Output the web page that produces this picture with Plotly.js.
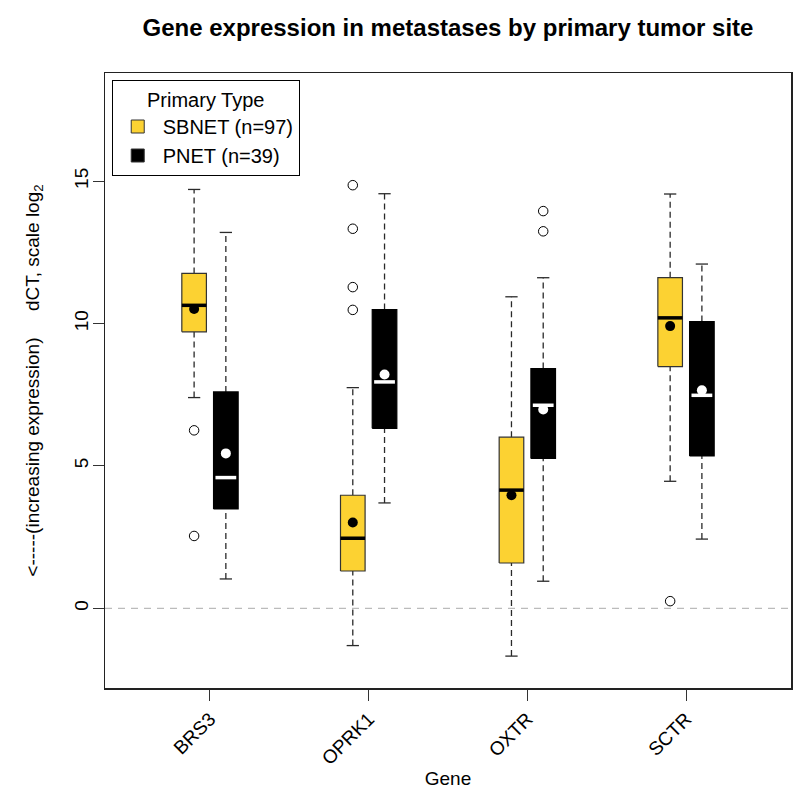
<!DOCTYPE html>
<html>
<head>
<meta charset="utf-8">
<script src="https://cdn.plot.ly/plotly-3.0.1.min.js"></script>
<style>
  html, body { margin: 0; padding: 0; background: #fff; }
  #plot { width: 800px; height: 795px; }
</style>
</head>
<body>
<div id="plot"></div>
<script>
// genes on the x axis
let genes = ['BRS3', 'OPRK1', 'OXTR', 'SCTR'];

// SBNET (n=97) box stats
let sbnetLow = [7.40, -1.31, -1.68, 4.46];
let sbnetQ1 = [9.71, 1.31, 1.59, 8.49];
let sbnetMedian = [10.64, 2.46, 4.15, 10.20];
let sbnetQ3 = [11.76, 3.97, 6.01, 11.61];
let sbnetHigh = [14.71, 7.75, 10.94, 14.55];
let sbnetMean = [10.51, 3.01, 3.97, 9.91];
let sbnetOutliers = [[6.25, 2.54], [14.86, 13.33, 11.28, 10.48], [], [0.25]];

// PNET (n=39) box stats
let pnetLow = [1.03, 3.70, 0.95, 2.43];
let pnetQ1 = [3.49, 6.32, 5.26, 5.35];
let pnetMedian = [4.59, 7.95, 7.13, 7.48];
let pnetQ3 = [7.60, 10.49, 8.42, 10.07];
let pnetHigh = [13.20, 14.56, 11.61, 12.09];
let pnetMean = [5.44, 8.21, 6.98, 7.66];
let pnetOutliers = [[], [], [13.95, 13.24], []];

let font = 'Arial, "Liberation Sans", Helvetica, sans-serif';
let yellow = '#FCD232';
let boxW = 0.155;   // box width in x units
let offset = 0.1;   // distance of each group from the gene tick

let groups = [
  {name: 'SBNET (n=97)', dx: -offset, fill: yellow, edge: '#333', mid: '#000', inset: 0,
   low: sbnetLow, q1: sbnetQ1, med: sbnetMedian, q3: sbnetQ3, high: sbnetHigh, mean: sbnetMean, out: sbnetOutliers},
  {name: 'PNET (n=39)', dx: offset, fill: '#000', edge: '#000', mid: '#fff', inset: 0.012,
   low: pnetLow, q1: pnetQ1, med: pnetMedian, q3: pnetQ3, high: pnetHigh, mean: pnetMean, out: pnetOutliers}
];

let data = [];

groups.forEach(function (g) {
  // dashed whiskers and caps
  let wx = [], wy = [], cx = [], cy = [];
  genes.forEach(function (gene, i) {
    let p = i + 1 + g.dx;
    wx.push(p, p, null, p, p, null);
    wy.push(g.low[i], g.q1[i], null, g.q3[i], g.high[i], null);
    cx.push(p - boxW / 4, p + boxW / 4, null, p - boxW / 4, p + boxW / 4, null);
    cy.push(g.low[i], g.low[i], null, g.high[i], g.high[i], null);
  });
  data.push({x: wx, y: wy, mode: 'lines', showlegend: false, hoverinfo: 'skip',
             line: {color: '#2a2a2a', width: 1.3, dash: '6px,4px'}});
  data.push({x: cx, y: cy, mode: 'lines', showlegend: false, hoverinfo: 'skip',
             line: {color: '#2a2a2a', width: 1.3}});

  // boxes
  genes.forEach(function (gene, i) {
    let p = i + 1 + g.dx;
    data.push({
      x: [p - boxW / 2, p + boxW / 2, p + boxW / 2, p - boxW / 2, p - boxW / 2],
      y: [g.q1[i], g.q1[i], g.q3[i], g.q3[i], g.q1[i]],
      mode: 'lines', fill: 'toself', fillcolor: g.fill,
      line: {color: g.edge, width: 1.2}, showlegend: false, hoverinfo: 'skip'
    });
  });

  // medians
  let mx = [], my = [];
  genes.forEach(function (gene, i) {
    let p = i + 1 + g.dx;
    mx.push(p - boxW / 2 + g.inset, p + boxW / 2 - g.inset, null);
    my.push(g.med[i], g.med[i], null);
  });
  data.push({x: mx, y: my, mode: 'lines', showlegend: false, hoverinfo: 'skip',
             line: {color: g.mid, width: 3.5}});

  // means
  data.push({x: genes.map(function (gn, i) { return i + 1 + g.dx; }), y: g.mean,
             mode: 'markers', showlegend: false, hoverinfo: 'skip',
             marker: {color: g.mid, size: 10, line: {width: 0}}});

  // outliers
  let ox = [], oy = [];
  g.out.forEach(function (vals, i) {
    vals.forEach(function (v) { ox.push(i + 1 + g.dx); oy.push(v); });
  });
  data.push({x: ox, y: oy, mode: 'markers', showlegend: false, hoverinfo: 'skip',
             marker: {symbol: 'circle-open', color: '#000', size: 9.5, line: {width: 1}}});

  // legend entry
  data.push({x: [1], y: [-100], mode: 'markers', name: g.name, showlegend: true,
             marker: {symbol: 'square', size: 13, color: g.fill, line: {color: '#333', width: 1}}});
});

let layout = {
  width: 800,
  height: 795,
  paper_bgcolor: '#fff',
  plot_bgcolor: '#fff',
  font: {family: font, size: 19, color: '#000'},
  margin: {l: 105, r: 9, t: 73, b: 107},
  title: {
    text: '<b>Gene expression in metastases by primary tumor site</b>',
    font: {family: font, size: 24, color: '#000'},
    x: 0.5, xref: 'paper', xanchor: 'center',
    y: 0.9648, yref: 'container', yanchor: 'middle'
  },
  xaxis: {
    range: [0.3384, 4.6616],
    tickvals: [1, 2, 3, 4],
    ticktext: genes,
    tickangle: -45,
    ticks: 'outside', ticklen: 11, tickcolor: '#333',
    showgrid: false, zeroline: false,
    showline: true, linecolor: '#222', linewidth: 1.5, mirror: true,
    tickfont: {size: 19},
    title: {text: 'Gene', font: {size: 19}, standoff: 4}
  },
  yaxis: {
    range: [-2.8, 18.8],
    tickvals: [0, 5, 10, 15],
    tickangle: -90,
    ticks: 'outside', ticklen: 11, tickcolor: '#333',
    ticklabelstandoff: -3,
    showgrid: false, zeroline: false,
    showline: true, linecolor: '#222', linewidth: 1.5, mirror: true,
    tickfont: {size: 19},
    title: {text: '&lt;-----(increasing expression)     dCT, scale log<sub>2</sub>',
            font: {size: 19}, standoff: 26}
  },
  shapes: [{
    type: 'line', xref: 'paper', x0: 0, x1: 1, yref: 'y', y0: 0, y1: 0,
    layer: 'below', line: {color: '#bbb', width: 1.2, dash: '7px,6px'}
  }],
  legend: {
    x: 0.0098, y: 0.9886, xanchor: 'left', yanchor: 'top',
    bordercolor: '#000', borderwidth: 1, bgcolor: '#fff',
    font: {size: 20},
    title: {text: 'Primary Type', side: 'top center', font: {size: 20}},
    itemwidth: 40, tracegroupgap: 0
  },
  showlegend: true,
  hovermode: false
};

Plotly.newPlot('plot', data, layout, {displayModeBar: false, staticPlot: true});
</script>
</body>
</html>
